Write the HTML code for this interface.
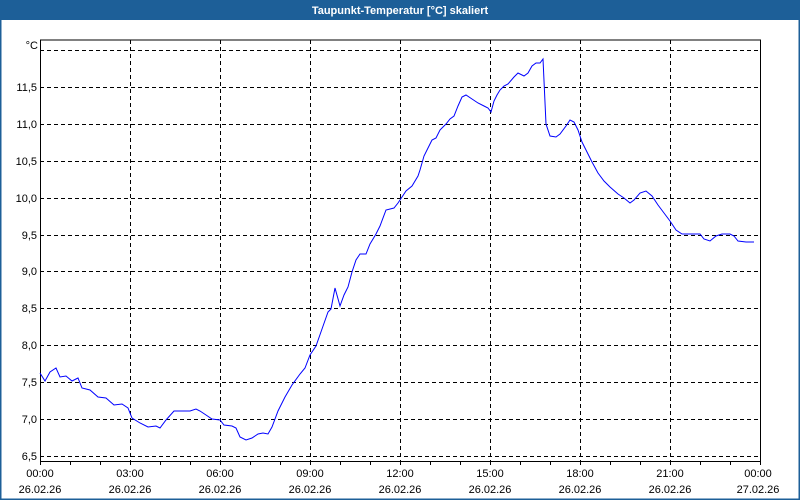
<!DOCTYPE html>
<html><head><meta charset="utf-8"><style>
html,body{margin:0;padding:0;background:#fff}
#w{position:relative;width:800px;height:500px;overflow:hidden;font-family:"Liberation Sans","DejaVu Sans",sans-serif}
</style></head><body><div id="w">
<svg width="800" height="500" xmlns="http://www.w3.org/2000/svg" font-family="Liberation Sans, DejaVu Sans, sans-serif">
<rect x="0" y="0" width="800" height="500" fill="#fff"/>
<rect x="0" y="0" width="800" height="20" fill="#1d5f98"/>
<rect x="0" y="0" width="800" height="500" fill="none" stroke="#1d5f98" stroke-width="3"/>
<text x="400" y="14" text-anchor="middle" font-size="11" font-weight="bold" fill="#fff">Taupunkt-Temperatur [°C] skaliert</text>
<g stroke="#000" stroke-width="1" stroke-dasharray="4,3" fill="none">
<path d="M40 50.5H760M40 87.5H760M40 124.5H760M40 161.5H760M40 198.5H760M40 235.5H760M40 271.5H760M40 308.5H760M40 345.5H760M40 382.5H760M40 419.5H760M40 456.5H760"/>
<path d="M130.5 40V461M220.5 40V461M310.5 40V461M400.5 40V461M490.5 40V461M580.5 40V461M670.5 40V461"/>
</g>
<path d="M40.5 40V461.5H760.5V40H40" fill="none" stroke="#000" stroke-width="1"/>
<g stroke="#000"><path d="M70.5 461V465M100.5 461V465M130.5 461V465M160.5 461V465M190.5 461V465M220.5 461V465M250.5 461V465M280.5 461V465M310.5 461V465M340.5 461V465M370.5 461V465M400.5 461V465M430.5 461V465M460.5 461V465M490.5 461V465M520.5 461V465M550.5 461V465M580.5 461V465M610.5 461V465M640.5 461V465M670.5 461V465M700.5 461V465M730.5 461V465M760.5 461V465M40.5 461V465"/></g>
<g font-size="11" fill="#000" text-anchor="end">
<text x="38" y="49">°C</text>
<text x="37" y="91">11,5</text><text x="37" y="128">11,0</text><text x="37" y="165">10,5</text><text x="37" y="202">10,0</text>
<text x="37" y="239">9,5</text><text x="37" y="275">9,0</text><text x="37" y="312">8,5</text><text x="37" y="349">8,0</text>
<text x="37" y="386">7,5</text><text x="37" y="423">7,0</text><text x="37" y="460">6,5</text>
</g>
<g font-size="11" fill="#000" text-anchor="middle">
<text x="40" y="477">00:00</text><text x="40" y="493">26.02.26</text>
<text x="130" y="477">03:00</text><text x="130" y="493">26.02.26</text>
<text x="220" y="477">06:00</text><text x="220" y="493">26.02.26</text>
<text x="310" y="477">09:00</text><text x="310" y="493">26.02.26</text>
<text x="400" y="477">12:00</text><text x="400" y="493">26.02.26</text>
<text x="490" y="477">15:00</text><text x="490" y="493">26.02.26</text>
<text x="580" y="477">18:00</text><text x="580" y="493">26.02.26</text>
<text x="670" y="477">21:00</text><text x="670" y="493">26.02.26</text>
<text x="758" y="477">00:00</text><text x="758" y="493">27.02.26</text>
</g>
<polyline fill="none" stroke="#0000ff" stroke-width="1" points="40,373 45,381 50,372 56,368 60,377 66,376 72,381 78,378 82,388 90,390 98,397 106,398 114,405 122,404 128,408 132,418 140,423 148,427 156,426 160,428 166,420 174,411 180,411 190,411 196,409 200,411 206,415 212,419 220,420 224,425 232,426 236,428 240,437 246,440 252,438 258,434 263,433 268,434 272,427 278,411 285,397 292,385 300,374 305,368 310,355 316,346 322,329 328,312 331,309 335,288 340,306 344,295 348,287 352,272 356,260 360,254 366,254 370,244 376,234 380,226 386,210 394,208 398,203 402,197 406,191 412,186 418,176 420,170 424,156 428,148 432,140 436,138 440,130 446,124 450,119 454,116 458,106 462,97 466,95 472,99 478,103 484,106 488,108 491,112 494,101 497,95 500,90 504,86 508,84 514,77 518,73 524,76 528,73 532,66 536,63 540,63 543,59 546,124 550,136 556,137 560,134 566,126 570,120 574,122 578,130 582,142 586,150 592,162 598,173 604,181 610,187 618,194 624,198 630,203 634,200 640,193 646,191 652,196 658,205 664,213 670,221 676,230 682,234 690,234 700,234 704,239 710,241 716,236 722,234 730,234 734,236 738,241 746,242 754,242"/>
</svg>
</div></body></html>
